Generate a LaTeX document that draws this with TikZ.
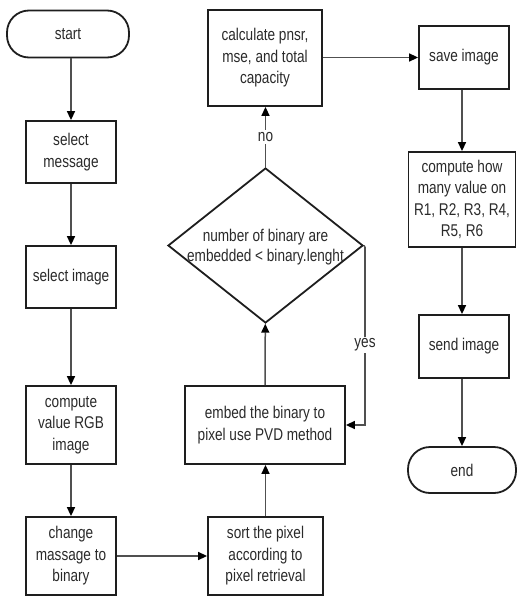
\documentclass[tikz,border=0pt]{standalone}
\usepackage{fontspec}
\setmainfont{Liberation Sans}[FakeStretch=0.8]
\usetikzlibrary{shapes.geometric,arrows.meta}
\definecolor{txt}{HTML}{2A2A2A}
\definecolor{edge}{HTML}{1E1E1E}
\definecolor{conn}{HTML}{505050}
\tikzset{
  base/.style={draw=edge, line width=1.8pt, text=txt, align=center, inner sep=1pt,
    font=\fontsize{17}{21.5}\selectfont},
  box/.style={base, rectangle},
  term/.style={base, rectangle, rounded corners=22pt},
  dec/.style={base, diamond, inner sep=0pt},
  dectext/.style={text=txt, align=center, inner sep=0pt, font=\fontsize{17}{20}\selectfont},
  conn/.style={draw=conn, line width=1.5pt, -{Triangle[length=9pt,width=8pt,color=black]}},
  plain/.style={draw=conn, line width=1.5pt},
  lab/.style={text=txt, font=\fontsize{17}{20}\selectfont, fill=white, inner sep=2pt}
}
\begin{document}
\begin{tikzpicture}[x=1pt,y=-1pt]
\useasboundingbox (0,0) rectangle (517,597);
\node[term, minimum width=122pt, minimum height=47pt] (start) at (68,34) {start};
\node[box, minimum width=90pt, minimum height=62pt] (selmsg) at (71,152) {select\\message};
\node[box, minimum width=90pt, minimum height=62pt] (selimg) at (71,277) {select image};
\node[box, minimum width=90pt, minimum height=78pt] (rgb) at (71,425) {compute\\value RGB\\image};
\node[box, minimum width=90pt, minimum height=78pt] (chg) at (71,556) {change\\massage to\\binary};
\node[box, minimum width=115pt, minimum height=78pt] (sort) at (265.5,556) {sort the pixel\\according to\\pixel retrieval};
\node[box, minimum width=160pt, minimum height=78pt] (embed) at (265,425) {embed the binary to\\pixel use PVD method};
\node[dec, minimum width=195pt, minimum height=155pt] (dia) at (265.5,245.5) {};
\node[dectext] (diatext) at (265.5,247) {number of binary are\\embedded < binary.lenght};
\node[box, minimum width=114pt, minimum height=96pt] (calc) at (265,58) {calculate pnsr,\\mse, and total\\capacity};
\node[box, minimum width=90pt, minimum height=63pt] (save) at (464,57.5) {save image};
\node[box, minimum width=107pt, minimum height=95pt] (count) at (462,199.5) {compute how\\many value on\\R1, R2, R3, R4,\\R5, R6};
\node[box, minimum width=90pt, minimum height=63pt] (send) at (464,346.5) {send image};
\node[term, minimum width=108pt, minimum height=46pt] (end) at (462,470) {end};
\coordinate (yesc) at (365,247);
\draw[conn] (start.south -| selmsg.north) -- (selmsg.north);
\draw[conn] (selmsg) -- (selimg);
\draw[conn] (selimg) -- (rgb);
\draw[conn] (rgb) -- (chg);
\draw[conn] (chg) -- (sort);
\draw[conn] (sort) -- (sort |- embed.south);
\draw[conn] (embed) -- (dia);
\draw[conn] (dia.north) -- node[lab]{no} (calc.south -| dia.north);
\draw[plain] (dia.east) -- (yesc);
\draw[conn] (yesc) -- node[lab, pos=0.55]{yes} (yesc |- embed.east) -- (embed.east);
\draw[conn] (calc.east |- save.west) -- (save.west);
\draw[conn] (save.south -| count.north) -- (count.north);
\draw[conn] (count.south) -- (count.south |- send.north);
\draw[conn] (send.south -| end.north) -- (end.north);
\end{tikzpicture}
\end{document}
